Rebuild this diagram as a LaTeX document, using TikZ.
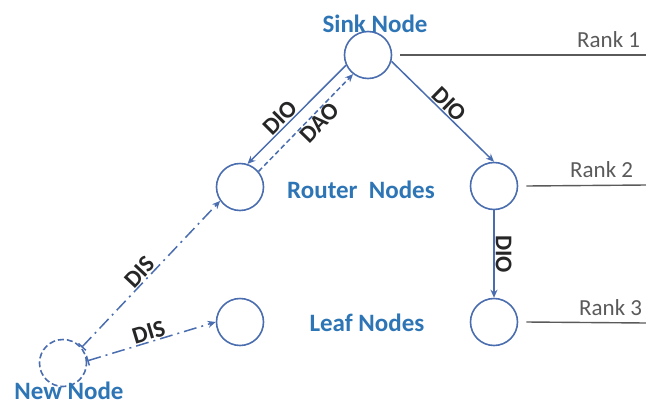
\documentclass[tikz,border=0pt]{standalone}
\usepackage{fontspec}
\setmainfont{Carlito}
\usetikzlibrary{arrows.meta}
\definecolor{nodeblue}{HTML}{4A6DB0}
\definecolor{textblue}{HTML}{2E75B6}
\definecolor{rankgray}{HTML}{5A5A5A}
\tikzset{
  rpl/.style={circle, draw=nodeblue, line width=1.6pt, minimum size=47pt, inner sep=0pt},
  kind/.style={text=textblue, font=\fontsize{25}{28}\selectfont\bfseries, anchor=base},
  msg/.style={font=\fontsize{24}{26}\selectfont\bfseries, text=black!85, sloped, inner sep=1pt},
  link/.style={draw=nodeblue, line width=1.5pt, arrows={-Stealth[length=8pt, width=7pt]}},
  dis/.style={link, dash pattern=on 13pt off 5pt on 2pt off 5pt, arrows={Bar[width=10pt]-Stealth[length=8pt, width=7pt]}},
  ranktxt/.style={text=rankgray, font=\fontsize{23}{26}\selectfont, anchor=base west, inner sep=0pt}
}
\begin{document}
\begin{tikzpicture}[x=1pt, y=-1pt]
    \useasboundingbox (0,0) rectangle (646,405);

    % ノード
    \node[rpl] (sink) at (368,55) {};
    \node[kind] at (375,32) {Sink Node};

    \node[rpl] (router) at (240,187) {};
    \node[kind] at (361,198) {Router\ \ Nodes};

    \node[rpl] (leaf) at (240,322) {};
    \node[kind] at (367,331) {Leaf Nodes};

    \node[rpl] (rtwo) at (494,186) {};
    \node[rpl] (rthree) at (494,322) {};

    \node[rpl, dash pattern=on 6pt off 3pt] (newn) at (63,363) {};
    \node[kind] at (69,399) {New Node};

    % ランク
    \coordinate (rone) at (646,55);
    \coordinate (rtwoend) at (646,185);
    \coordinate (rthreeend) at (646,323);
    \draw[rankgray, line width=1.4pt] ([xshift=8pt]sink.east) -- (rone);
    \draw[rankgray, line width=1.4pt] ([xshift=8pt]rtwo.east) -- (rtwoend);
    \draw[rankgray, line width=1.4pt] ([xshift=8pt]rthree.east) -- (rthreeend);
    \node[ranktxt] at (577,47) {Rank 1};
    \node[ranktxt] at (570,177) {Rank 2};
    \node[ranktxt] at (579,315) {Rank 3};

    % 矢印(メッセージ)
    \draw[link] (sink.205) -- node[msg, above, pos=0.6] {DIO} (router.72);
    \draw[link, dash pattern=on 5pt off 3pt] (router.40) -- node[msg, below, pos=0.57] {DAO} (sink.232);
    \draw[link] (sink.345) -- node[msg, above] {DIO} (rtwo.north);
    \draw[link] (rtwo.south) -- node[msg, above] {DIO} (rthree.north);
    \draw[dis] (newn.40) -- node[msg, above, pos=0.47] {DIS} (router.215);
    \draw[dis] (newn.5) -- node[msg, above] {DIS} (leaf.west);
\end{tikzpicture}
\end{document}
